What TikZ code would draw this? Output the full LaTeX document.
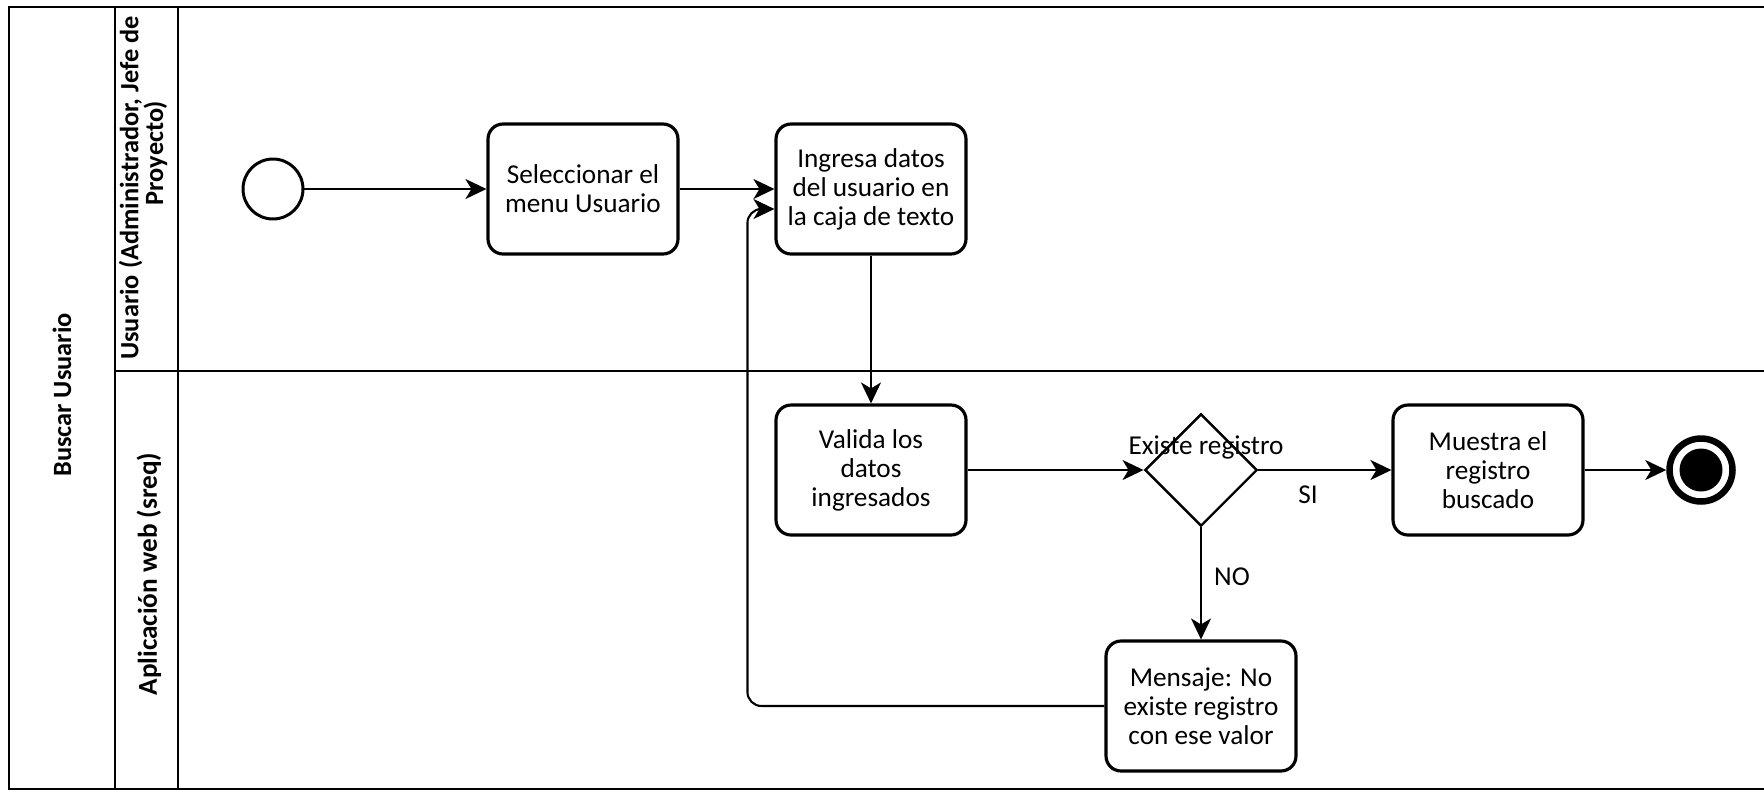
\documentclass[tikz,border=0pt]{standalone}
\usepackage{fontspec}
\setmainfont{Carlito}
\usetikzlibrary{arrows.meta,shapes.geometric}
\tikzset{
  act/.style={draw,line width=1.8pt,rounded corners=0.3cm,minimum width=3.8cm,minimum height=2.6cm,align=center,font=\fontsize{15.5}{16.5}\selectfont},
  flow/.style={line width=1.2pt,-{Stealth[length=0.42cm,width=0.4cm,inset=0.12cm]}},
  lane/.style={rotate=90,align=center,font=\bfseries\fontsize{15}{14}\selectfont},
  lbl/.style={font=\fontsize{15.5}{16.5}\selectfont}
}
\begin{document}
\begin{tikzpicture}[x=0.02cm,y=-0.02cm]
\useasboundingbox (0,0) rectangle (1764,792);
% pool and lanes
\draw[line width=1.3pt] (1764,7) -- (9,7) -- (9,789) -- (1764,789);
\draw[line width=1.3pt] (115,7) -- (115,789) (178,7) -- (178,789) (115,371) -- (1764,371);
\node[lane] (pool) at (62,395) {Buscar Usuario};
\node[lane] (lane1) at (143,188) {Usuario (Administrador, Jefe de\\\hspace*{1.4cm}Proyecto)};
\node[lane,font=\bfseries\fontsize{15.5}{14}\selectfont] (lane2) at (149,574) {Aplicación web (sreq)};
% start and end
\node[circle,draw,line width=1.7pt,minimum size=1.2cm,inner sep=0] (start) at (273,189) {};
\node[circle,draw,line width=3.7pt,minimum size=1.26cm,inner sep=0] (end) at (1701,470) {};
\node[circle,fill,minimum size=0.86cm,inner sep=0] (endin) at (end) {};
% activities
\node[act] (sel) at (583,189) {Seleccionar el\\menu Usuario};
\node[act] (ing) at (871,189) {Ingresa datos\\del usuario en\\la caja de texto};
\node[act] (val) at (871,470) {Valida los\\datos\\ingresados};
\node[diamond,draw,line width=1.4pt,minimum width=2.25cm,minimum height=2.25cm,inner sep=0] (dec) at (1201,470) {};
\node[act] (mue) at (1488,470) {Muestra el\\registro\\buscado};
\node[act] (msg) at (1201,706) {Mensaje: No\\existe registro\\con ese valor};
\node[lbl] (q) at (1206,447) {Existe registro};
\node[lbl] (si) at (1308,495) {SI};
\node[lbl] (no) at (1232,577) {NO};
% flows
\draw[flow] (start) -- (sel);
\draw[flow] (sel) -- (ing);
\draw[flow] (ing) -- (val);
\draw[flow] (val) -- (dec);
\draw[flow] (dec) -- (mue);
\draw[flow] (mue) -- (end);
\draw[flow] (dec) -- (msg);
\draw[flow,rounded corners=8pt] (msg.west) -| ([xshift=-0.54cm,yshift=-0.4cm]ing.west) -- ([yshift=-0.4cm]ing.west);
\end{tikzpicture}
\end{document}
